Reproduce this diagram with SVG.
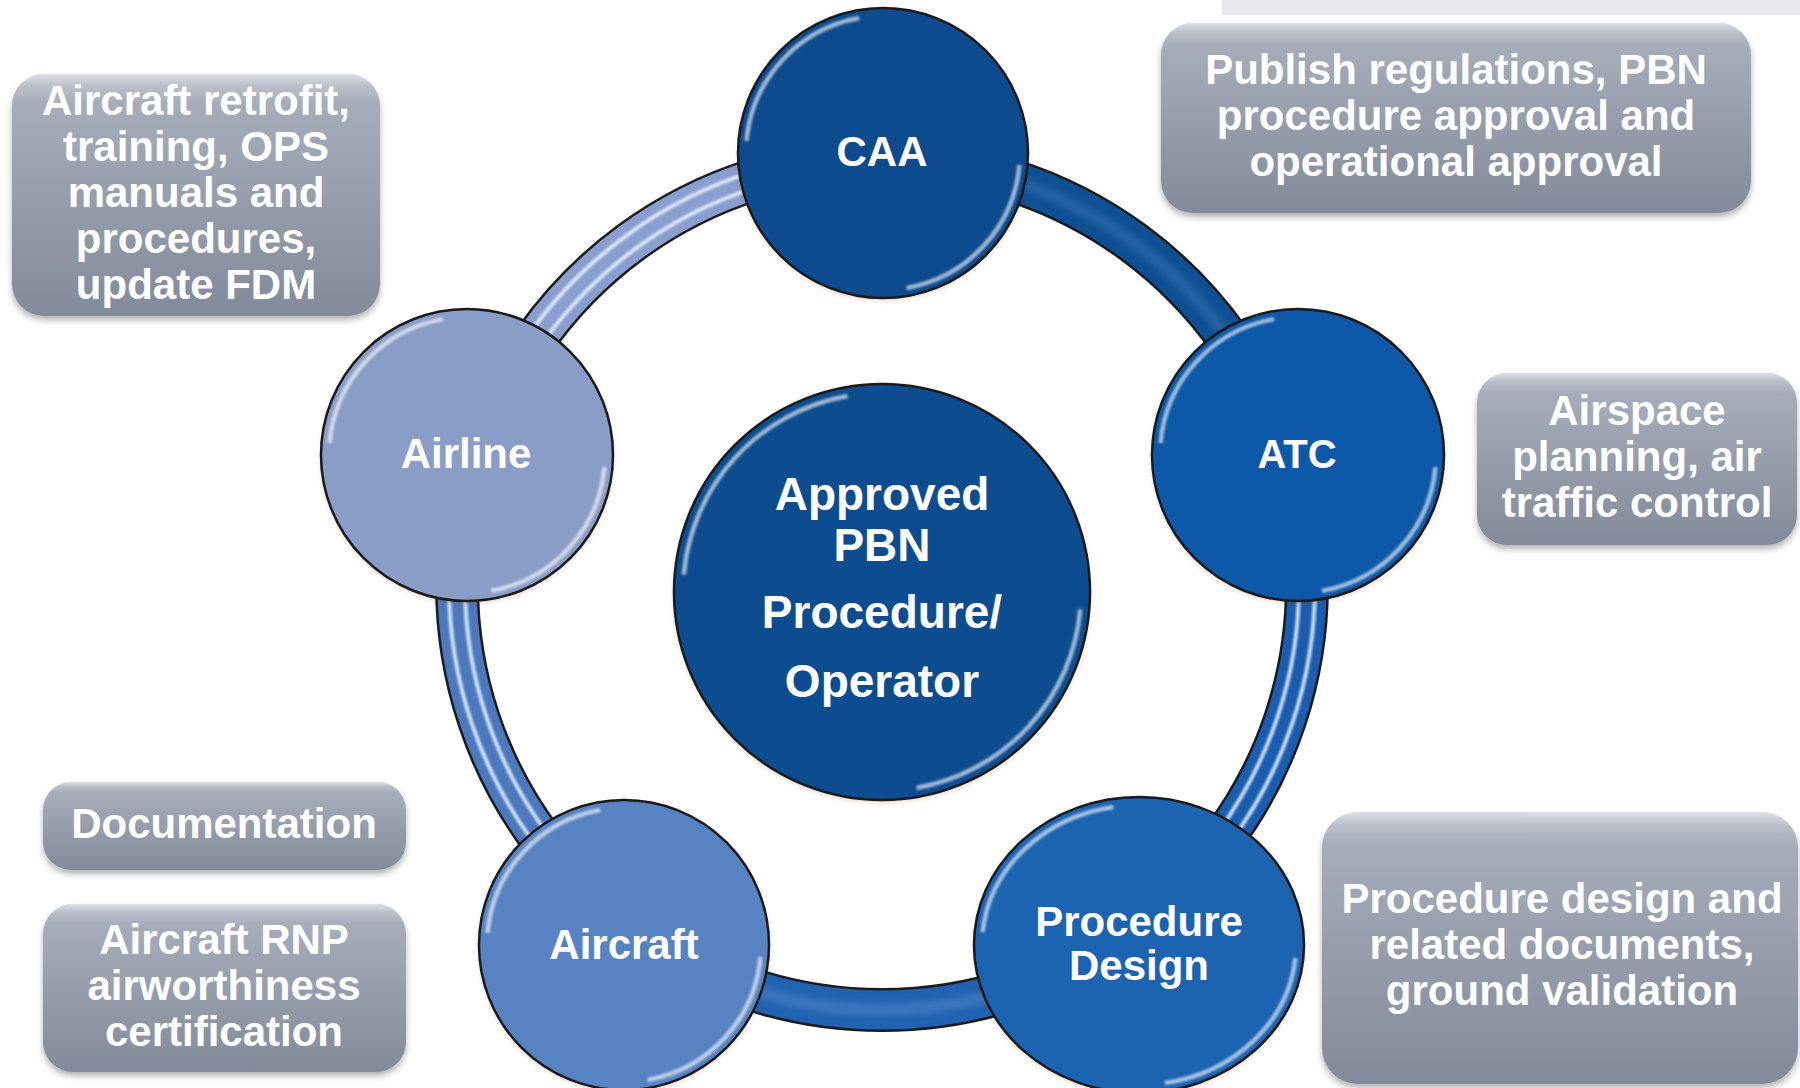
<svg xmlns="http://www.w3.org/2000/svg" width="1800" height="1088" viewBox="0 0 1800 1088">
<style>
  .lbl{font-family:"Liberation Sans",Arial,sans-serif;font-weight:bold;fill:#ffffff;text-anchor:middle}
  .box{font-size:42px}
  .rim{fill:none;stroke:#1a1a1a;stroke-width:2.5}
  .hl{fill:none;stroke:#ffffff;stroke-width:4.5;stroke-opacity:0.6;stroke-dasharray:75 105;stroke-dashoffset:-5;filter:url(#soft)}
  .segEdge{fill:none;stroke:#1b1b1b;stroke-width:44}
  .stripe{fill:none;stroke:#e8f2ff;stroke-width:4;stroke-opacity:0.85;filter:url(#soft)}
  .glow{fill:none;stroke-width:12;stroke-opacity:0.35;filter:url(#blur3)}
  .boxbg{fill:url(#boxGrad);filter:url(#boxShadow)}
  .gloss{fill:url(#gloss)}
</style>
<defs>
  <linearGradient id="boxGrad" x1="0" y1="0" x2="0" y2="1">
    <stop offset="0" stop-color="#abb1be"/>
    <stop offset="1" stop-color="#838a9b"/>
  </linearGradient>
  <linearGradient id="gloss" x1="0" y1="0" x2="0" y2="1">
    <stop offset="0" stop-color="#ffffff" stop-opacity="0.6"/>
    <stop offset="0.05" stop-color="#ffffff" stop-opacity="0.2"/>
    <stop offset="0.12" stop-color="#ffffff" stop-opacity="0"/>
  </linearGradient>
  <filter id="soft" x="-10%" y="-10%" width="120%" height="120%">
    <feGaussianBlur stdDeviation="1.1"/>
  </filter>
  <filter id="blur3" x="-10%" y="-10%" width="120%" height="120%">
    <feGaussianBlur stdDeviation="3"/>
  </filter>
  <filter id="nodeShadow" x="-20%" y="-20%" width="140%" height="140%">
    <feDropShadow dx="0" dy="2" stdDeviation="2.5" flood-color="#7a3a20" flood-opacity="0.25"/>
  </filter>
  <filter id="boxShadow" x="-10%" y="-10%" width="120%" height="130%">
    <feDropShadow dx="0" dy="4" stdDeviation="3" flood-color="#000000" flood-opacity="0.3"/>
  </filter>
</defs>

<rect x="0" y="0" width="1800" height="1088" fill="#ffffff"/>
<rect x="1222" y="0" width="578" height="15" fill="#e8e9ee"/>

<g id="connectors">
  <!-- CAA to ATC -->
  <path class="segEdge" d="M 882 160 A 425 425 0 0 1 1287.5 457.9"/>
  <path d="M 882 160 A 425 425 0 0 1 1287.5 457.9" fill="none" stroke="#0f4f93" stroke-width="39"/>
  <path class="glow" stroke="#4f86c6" d="M 882 160 A 425 425 0 0 1 1287.5 457.9"/>
  <!-- ATC to Procedure Design -->
  <path class="segEdge" d="M 1287.5 457.9 A 425 425 0 0 1 1129.4 930.6"/>
  <path d="M 1287.5 457.9 A 425 425 0 0 1 1129.4 930.6" fill="none" stroke="#1a5cae" stroke-width="39"/>
  <path class="stripe" d="M 1279.9 460.3 A 417 417 0 0 1 1124.7 924.1"/>
  <path class="stripe" d="M 1295.2 455.5 A 433 433 0 0 1 1134 937.1"/>
  <!-- Procedure Design to Aircraft -->
  <path class="segEdge" d="M 1129.4 930.6 A 425 425 0 0 1 634.6 930.6"/>
  <path d="M 1129.4 930.6 A 425 425 0 0 1 634.6 930.6" fill="none" stroke="#2162b1" stroke-width="39"/>
  <path class="glow" stroke="#6a9ad6" d="M 1129.4 930.6 A 425 425 0 0 1 634.6 930.6"/>
  <!-- Aircraft to Airline -->
  <path class="segEdge" d="M 634.6 930.6 A 425 425 0 0 1 476.5 457.9"/>
  <path d="M 634.6 930.6 A 425 425 0 0 1 476.5 457.9" fill="none" stroke="#4c78be" stroke-width="39"/>
  <path class="stripe" d="M 639.3 924.1 A 417 417 0 0 1 484.1 460.3"/>
  <path class="stripe" d="M 630 937.1 A 433 433 0 0 1 468.8 455.5"/>
  <!-- Airline to CAA -->
  <path class="segEdge" d="M 476.5 457.9 A 425 425 0 0 1 882 160"/>
  <path d="M 476.5 457.9 A 425 425 0 0 1 882 160" fill="none" stroke="#8a9ed0" stroke-width="39"/>
  <path class="stripe" d="M 484.1 460.3 A 417 417 0 0 1 882 168"/>
  <path class="stripe" d="M 468.8 455.5 A 433 433 0 0 1 882 152"/>
</g>

<g id="node-center">
  <circle cx="882" cy="592" r="208" fill="#0c4d8f" filter="url(#nodeShadow)"/>
  <circle class="rim" cx="882" cy="592" r="208"/>
  <circle class="hl" cx="882" cy="592" r="199" pathLength="360"/>
  <text class="lbl" font-size="46" x="882" y="510">Approved</text>
  <text class="lbl" font-size="46" x="882" y="561">PBN</text>
  <text class="lbl" font-size="46" x="882" y="628">Procedure/</text>
  <text class="lbl" font-size="46" x="882" y="697">Operator</text>
</g>

<g id="node-caa">
  <circle cx="883" cy="153" r="145" fill="#0b4c8e" filter="url(#nodeShadow)"/>
  <circle class="rim" cx="883" cy="153" r="145"/>
  <circle class="hl" cx="883" cy="153" r="137" pathLength="360"/>
  <text class="lbl" font-size="42" x="882" y="166">CAA</text>
</g>

<g id="node-atc">
  <circle cx="1298" cy="455" r="146" fill="#0e58a8" filter="url(#nodeShadow)"/>
  <circle class="rim" cx="1298" cy="455" r="146"/>
  <circle class="hl" cx="1298" cy="455" r="138" pathLength="360"/>
  <text class="lbl" font-size="40" x="1297" y="468">ATC</text>
</g>

<g id="node-procedure-design">
  <ellipse cx="1139" cy="945" rx="165" ry="148" fill="#1f64b2" filter="url(#nodeShadow)"/>
  <ellipse class="rim" cx="1139" cy="945" rx="165" ry="148"/>
  <ellipse class="hl" cx="1139" cy="945" rx="157" ry="140" pathLength="360"/>
  <text class="lbl" font-size="42" x="1139" y="936">Procedure</text>
  <text class="lbl" font-size="42" x="1139" y="980">Design</text>
</g>

<g id="node-aircraft">
  <circle cx="624" cy="945" r="145" fill="#5983c3" filter="url(#nodeShadow)"/>
  <circle class="rim" cx="624" cy="945" r="145"/>
  <circle class="hl" cx="624" cy="945" r="137" pathLength="360"/>
  <text class="lbl" font-size="42" x="624" y="959">Aircraft</text>
</g>

<g id="node-airline">
  <circle cx="467" cy="455" r="146" fill="#8a9dc7" filter="url(#nodeShadow)"/>
  <circle class="rim" cx="467" cy="455" r="146"/>
  <circle class="hl" cx="467" cy="455" r="138" pathLength="360"/>
  <text class="lbl" font-size="42" x="466" y="468">Airline</text>
</g>

<g id="box-airline">
  <rect class="boxbg" x="12" y="74" width="368" height="242" rx="32"/>
  <rect class="gloss" x="12" y="74" width="368" height="242" rx="32"/>
  <text class="lbl box" x="196" y="115">Aircraft retrofit,</text>
  <text class="lbl box" x="196" y="161">training, OPS</text>
  <text class="lbl box" x="196" y="207">manuals and</text>
  <text class="lbl box" x="196" y="253">procedures,</text>
  <text class="lbl box" x="196" y="299">update FDM</text>
</g>

<g id="box-caa">
  <rect class="boxbg" x="1161" y="23" width="590" height="190" rx="32"/>
  <rect class="gloss" x="1161" y="23" width="590" height="190" rx="32"/>
  <text class="lbl box" x="1456" y="84">Publish regulations, PBN</text>
  <text class="lbl box" x="1456" y="130">procedure approval and</text>
  <text class="lbl box" x="1456" y="176">operational approval</text>
</g>

<g id="box-atc">
  <rect class="boxbg" x="1477" y="373" width="320" height="172" rx="30"/>
  <rect class="gloss" x="1477" y="373" width="320" height="172" rx="30"/>
  <text class="lbl box" x="1637" y="425">Airspace</text>
  <text class="lbl box" x="1637" y="471">planning, air</text>
  <text class="lbl box" x="1637" y="517">traffic control</text>
</g>

<g id="box-documentation">
  <rect class="boxbg" x="43" y="782" width="363" height="88" rx="28"/>
  <rect class="gloss" x="43" y="782" width="363" height="88" rx="28"/>
  <text class="lbl box" x="224" y="838">Documentation</text>
</g>

<g id="box-aircraft">
  <rect class="boxbg" x="43" y="904" width="363" height="168" rx="30"/>
  <rect class="gloss" x="43" y="904" width="363" height="168" rx="30"/>
  <text class="lbl box" x="224" y="954">Aircraft RNP</text>
  <text class="lbl box" x="224" y="1000">airworthiness</text>
  <text class="lbl box" x="224" y="1046">certification</text>
</g>

<g id="box-procedure-design">
  <rect class="boxbg" x="1322" y="812" width="476" height="272" rx="36"/>
  <rect class="gloss" x="1322" y="812" width="476" height="272" rx="36"/>
  <text class="lbl box" x="1562" y="913">Procedure design and</text>
  <text class="lbl box" x="1562" y="959">related documents,</text>
  <text class="lbl box" x="1562" y="1005">ground validation</text>
</g>
</svg>
